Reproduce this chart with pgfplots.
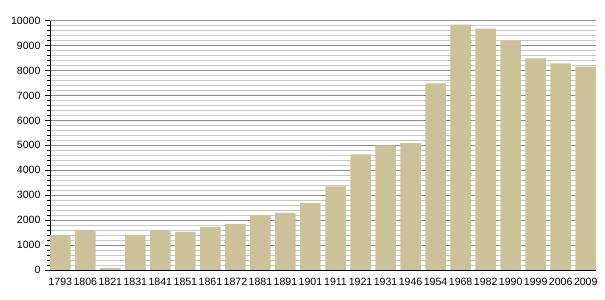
\documentclass[border=0pt]{standalone}
\usepackage{fontspec}
\setmainfont{Liberation Sans}
\usepackage{pgfplots}
\pgfplotsset{compat=1.18}
\definecolor{barcol}{RGB}{204,193,153}
\begin{document}
\begin{tikzpicture}
\useasboundingbox (-50bp,-30bp) rectangle (555bp,270bp);
\begin{axis}[
  scale only axis, width=546bp, height=249.3bp,
  xmin=-0.41, xmax=21.41, ymin=0, ymax=10000,
  axis x line*=bottom, axis y line*=left,
  ybar, bar width=20.5bp, bar shift=0pt,
  xtick={0,...,21},
  xticklabels={1793,1806,1821,1831,1841,1851,1861,1872,1881,1891,1901,1911,1921,1931,1946,1954,1968,1982,1990,1999,2006,2009},
  x tick style={draw=none},
  ytick={0,1000,...,10000}, minor tick num=4,
  ymajorgrids, yminorgrids,
  major grid style={black!45, line width=0.6pt},
  minor grid style={black!22, line width=0.5pt},
  tick align=outside, major tick length=5bp, minor tick length=3bp,
  y tick style={black, line width=0.6pt},
  tick label style={font=\fontsize{10.6}{12}\selectfont},
  yticklabel style={xshift=-1bp},
  /pgf/number format/1000 sep={},
  /pgf/number format/assume math mode=true,
  scaled y ticks=false,
  axis line style={black, line width=0.8pt},
]
\addplot[fill=barcol, draw=none] coordinates {
(0,1400) (1,1600) (2,90) (3,1400) (4,1600) (5,1530) (6,1730) (7,1850) (8,2200) (9,2290)
(10,2690) (11,3350) (12,4640) (13,5000) (14,5090) (15,7490) (16,9840) (17,9680) (18,9190)
(19,8490) (20,8290) (21,8160)};
\end{axis}
\end{tikzpicture}
\end{document}
